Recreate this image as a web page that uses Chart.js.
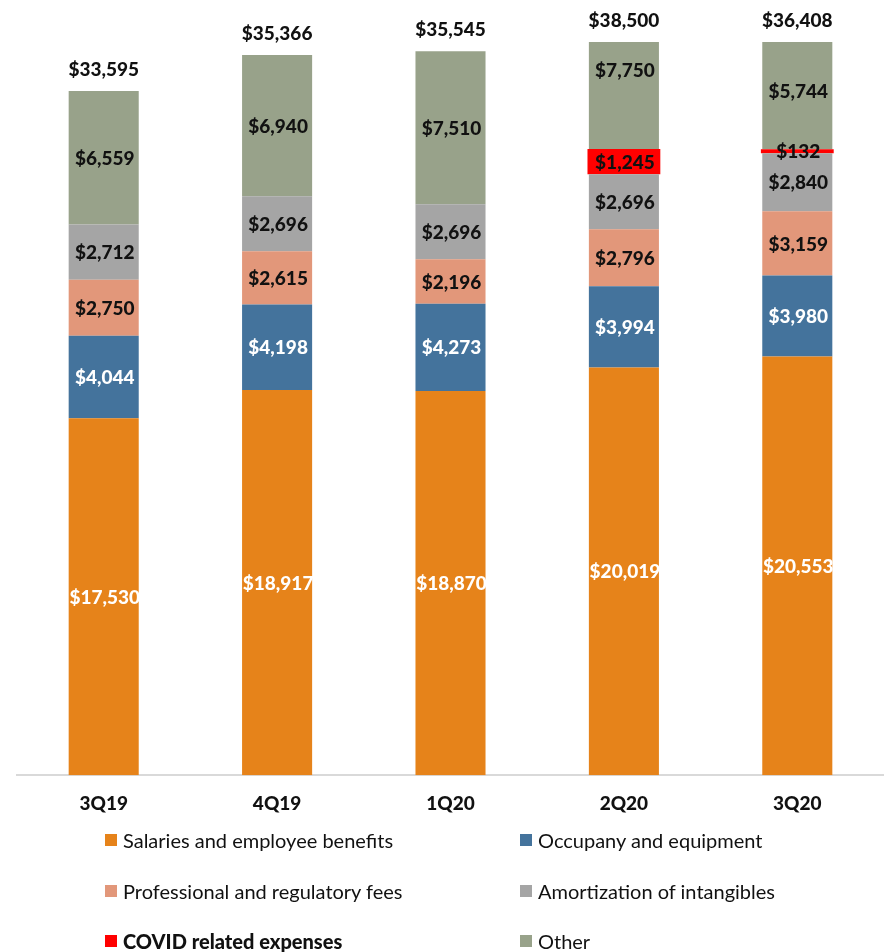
<!DOCTYPE html>
<html>
<head>
<meta charset="utf-8">
<script src="https://cdn.jsdelivr.net/npm/chart.js@4.4.1/dist/chart.umd.min.js"></script>
<style>
  body { margin: 0; background: #fff; font-family: Lato, "Open Sans", sans-serif; }
  #wrap { position: relative; width: 884px; height: 952px; }
  #legend { position: absolute; left: 0; top: 820px; width: 884px; height: 132px; }
  .item { position: absolute; display: flex; align-items: center; font-size: 20px; color: #111; white-space: nowrap; }
  .item span.box { width: 12px; height: 12px; margin-right: 6px; display: inline-block; }
</style>
</head>
<body>
<div id="wrap">
  <canvas id="expenseChart" width="884" height="832"></canvas>
  <div id="legend"></div>
</div>
<script>
// Quarterly non-interest expense, $ thousands
const quarters = ['3Q19', '4Q19', '1Q20', '2Q20', '3Q20'];
const salaries = [17530, 18917, 18870, 20019, 20553];
const occupancy = [4044, 4198, 4273, 3994, 3980];
const professional = [2750, 2615, 2196, 2796, 3159];
const amortization = [2712, 2696, 2696, 2696, 2840];
const covid = [null, null, null, 1245, 132];
const other = [6559, 6940, 7510, 7750, 5744];
const totals = [33595, 35366, 35545, 38500, 36408];

const seriesNames = [
    'Salaries and employee benefits',
    'Occupany and equipment',
    'Professional and regulatory fees',
    'Amortization of intangibles',
    'COVID related expenses',
    'Other'
];
const seriesColors = ['#E6831A', '#44739C', '#E2977A', '#A5A5A5', '#FF0000', '#98A28A'];
const labelColors = ['#fff', '#fff', '#111', '#111', '#111', '#111'];
const seriesData = [salaries, occupancy, professional, amortization, covid, other];

const Y_MAX = 36000;
const FONT = 'Lato, "Open Sans", sans-serif';
const money = v => '$' + v.toLocaleString('en-US');

// value labels inside each segment and totals above each stack
const barLabels = {
    id: 'barLabels',
    afterDatasetsDraw(chart) {
        const ctx = chart.ctx;
        const y = chart.scales.y;
        ctx.save();
        ctx.font = '900 19px ' + FONT;
        ctx.textAlign = 'center';
        ctx.textBaseline = 'middle';
        chart.data.datasets.forEach((ds, i) => {
            chart.getDatasetMeta(i).data.forEach((bar, j) => {
                const v = ds.data[j];
                if (v == null) return;
                ctx.fillStyle = labelColors[i];
                ctx.fillText(money(v), bar.x + 1, (bar.y + bar.base) / 2 + 1);
            });
        });
        const xs = chart.getDatasetMeta(0).data;
        ctx.fillStyle = '#111';
        totals.forEach((t, j) => {
            const top = y.getPixelForValue(Math.min(t, Y_MAX));
            ctx.fillText(money(t), xs[j].x, top - 21);
        });
        ctx.restore();
    }
};

const ctx = document.getElementById('expenseChart').getContext('2d');
new Chart(ctx, {
    type: 'bar',
    data: {
        labels: quarters,
        datasets: seriesData.map((d, i) => ({
            label: seriesNames[i],
            data: d,
            backgroundColor: seriesColors[i],
            borderWidth: 0,
            barPercentage: i === 4 ? 0.42 : 0.404,
            categoryPercentage: 1,
            minBarLength: i === 4 ? 4 : 0
        }))
    },
    options: {
        responsive: false,
        animation: false,
        layout: { padding: { left: 17, top: 42, right: 0, bottom: 0 } },
        plugins: {
            legend: { display: false },
            tooltip: { enabled: false }
        },
        scales: {
            x: {
                stacked: true,
                grid: { display: false, drawTicks: false },
                border: { display: true, color: '#D9D9D9', width: 2 },
                ticks: {
                    color: '#111',
                    padding: 17,
                    font: { family: FONT, size: 19, weight: 900 }
                }
            },
            y: {
                stacked: true,
                display: false,
                min: 0,
                max: Y_MAX
            }
        }
    },
    plugins: [barLabels]
});

// two-column legend below the chart
const legend = document.getElementById('legend');
const legendCols = [105, 520];
const legendRows = [20, 71, 121];
seriesNames.forEach((name, i) => {
    const el = document.createElement('div');
    el.className = 'item';
    el.style.left = legendCols[i % 2] + 'px';
    el.style.top = (legendRows[Math.floor(i / 2)] - 12) + 'px';
    if (i === 4) el.style.fontWeight = '900';
    el.innerHTML = '<span class="box" style="background:' + seriesColors[i] + '"></span>' + name;
    legend.appendChild(el);
});
</script>
</body>
</html>
